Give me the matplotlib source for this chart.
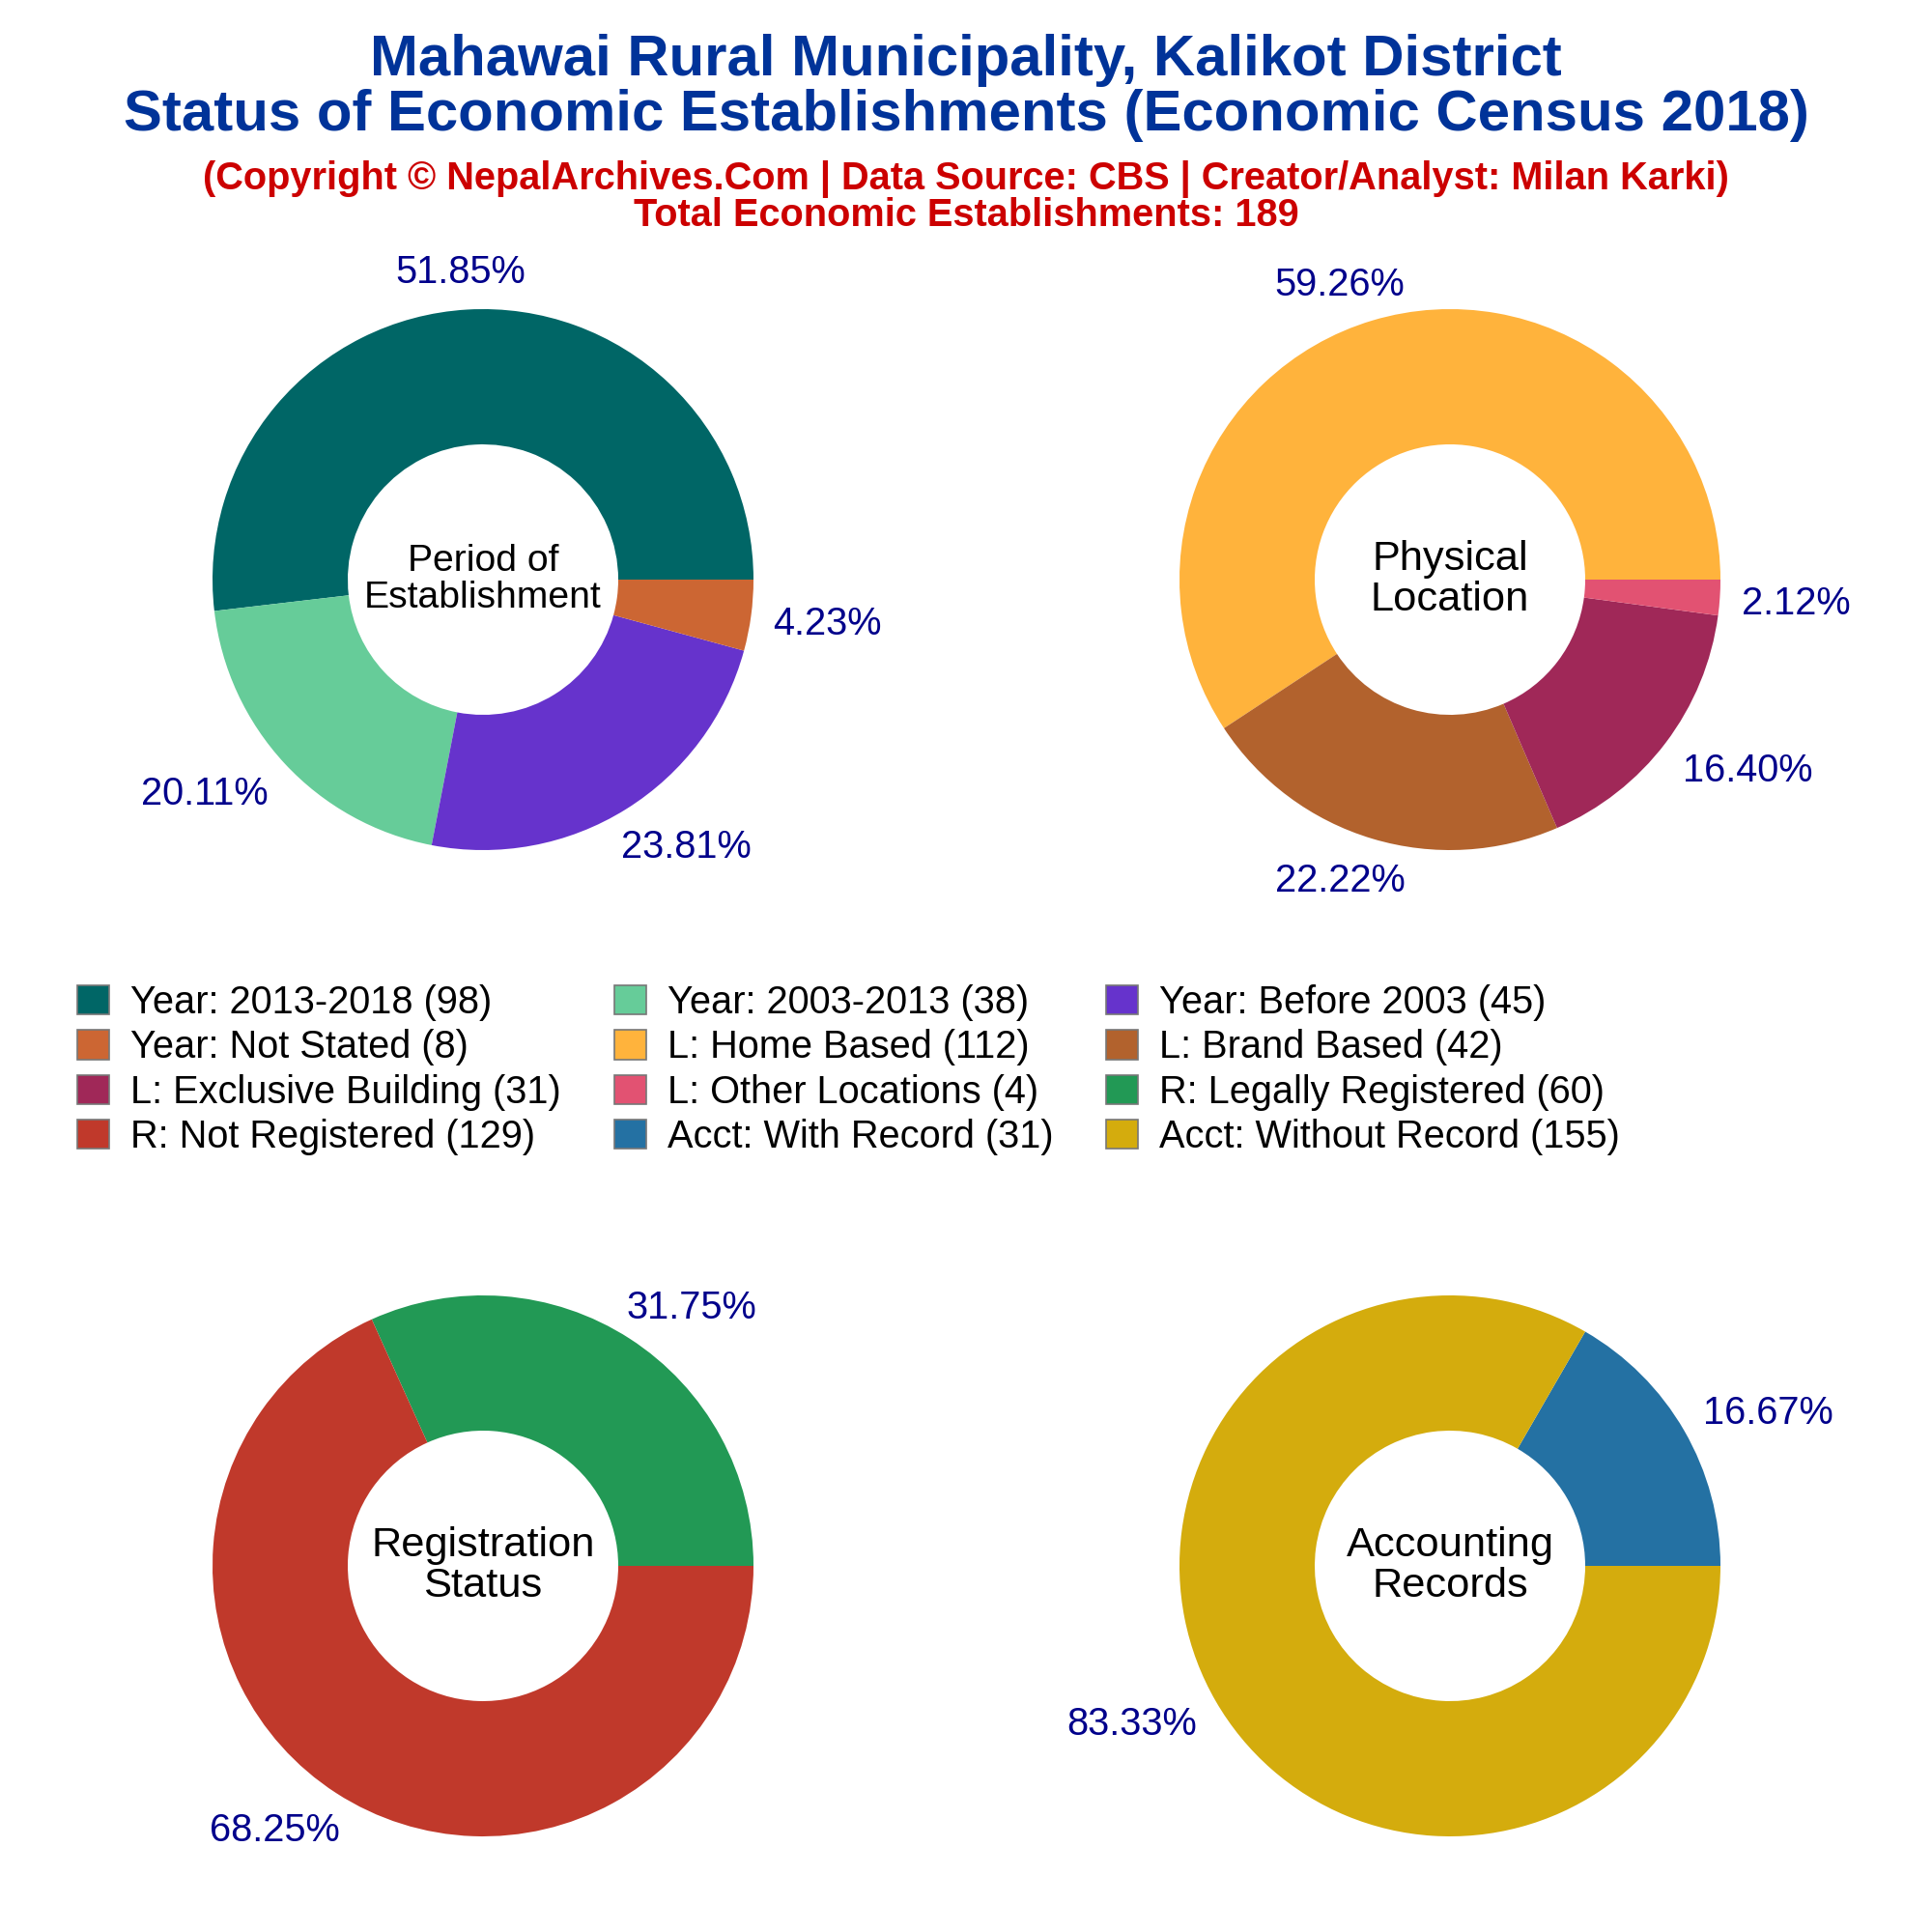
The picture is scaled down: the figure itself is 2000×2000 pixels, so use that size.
#!/usr/bin/env python3
"""Economic census donut charts for Mahawai Rural Municipality."""

import numpy as np
import matplotlib
matplotlib.use("Agg")
import matplotlib.pyplot as plt
import matplotlib.patches as mpatches

plt.rcParams["font.family"] = ["Liberation Sans", "DejaVu Sans"]

TITLE = "Mahawai Rural Municipality, Kalikot District\nStatus of Economic Establishments (Economic Census 2018)"
SUBTITLE = "(Copyright © NepalArchives.Com | Data Source: CBS | Creator/Analyst: Milan Karki)\nTotal Economic Establishments: 189"

period_labels = ["Year: 2013-2018", "Year: 2003-2013", "Year: Before 2003", "Year: Not Stated"]
period_values = [98, 38, 45, 8]
period_colors = ["#006666", "#66CC99", "#6633CC", "#CC6633"]

location_labels = ["L: Home Based", "L: Brand Based", "L: Exclusive Building", "L: Other Locations"]
location_values = [112, 42, 31, 4]
location_colors = ["#FFB33C", "#B2622D", "#A02858", "#E25272"]

register_labels = ["R: Legally Registered", "R: Not Registered"]
register_values = [60, 129]
register_colors = ["#229955", "#C0392B"]

account_labels = ["Acct: With Record", "Acct: Without Record"]
account_values = [31, 155]
account_colors = ["#2471A3", "#D4AC0D"]

W = 2000
RADIUS = 280
PCT_COLOR = "#00008B"
PCT_SIZE = 14.3

fig = plt.figure(figsize=(10, 10), dpi=200)


def donut(cx, cy, values, colors, center_text, center_size):
    """Draw one donut centred on pixel (cx, cy), y measured from the top."""
    ax = fig.add_axes([(cx - RADIUS) / W, 1 - (cy + RADIUS) / W,
                       2 * RADIUS / W, 2 * RADIUS / W])
    ax.pie(values, colors=colors, startangle=0, counterclock=True, radius=1,
           wedgeprops=dict(width=0.5, linewidth=0))
    ax.set_xlim(-1, 1)
    ax.set_ylim(-1, 1)

    # percent labels sit outside the ring, pushed out by their own box size
    renderer = fig.canvas.get_renderer()
    values = np.array(values, dtype=float)
    mids = (np.cumsum(values) - values / 2) / values.sum() * 2 * np.pi
    for v, mid in zip(values, mids):
        t = ax.text(0, 0, f"{v / values.sum() * 100:.2f}%", color=PCT_COLOR,
                    fontsize=PCT_SIZE, ha="center", va="center", clip_on=False)
        box = t.get_window_extent(renderer)
        c, s = np.cos(mid), np.sin(mid)
        push_x = np.sign(c) * min(1, 1.4 * abs(c))
        t.set_position((1.082 * c + box.width / 2 * push_x / RADIUS,
                        1.082 * s + box.height / 2 * s / RADIUS - 0.012))

    ax.text(0, 0, center_text, fontsize=center_size, ha="center", va="center",
            linespacing=1.05, color="black")


donut(500, 600, period_values, period_colors, "Period of\nEstablishment", 14.1)
donut(1501, 600, location_values, location_colors, "Physical\nLocation", 15.6)
donut(500, 1621, register_values, register_colors, "Registration\nStatus", 15.6)
donut(1501, 1621, account_values, account_colors, "Accounting\nRecords", 15.6)

fig.text(0.5, 1 - 91 / W, TITLE, fontsize=21.55, fontweight="bold", color="#003399",
         ha="center", va="center", linespacing=1.04)
fig.text(0.5, 1 - 204 / W, SUBTITLE, fontsize=14.3, fontweight="bold", color="#CC0000",
         ha="center", va="center", linespacing=0.98)

# legend reads row by row, matplotlib fills column by column
labels = period_labels + location_labels + register_labels + account_labels
values = period_values + location_values + register_values + account_values
colors = period_colors + location_colors + register_colors + account_colors
handles = [mpatches.Patch(facecolor=c, edgecolor="#777777", linewidth=0.6,
                          label=f"{l} ({v})")
           for l, v, c in zip(labels, values, colors)]
order = [i for col in range(3) for i in range(col, len(handles), 3)]
fig.legend(handles=[handles[i] for i in order], ncols=3, frameon=False,
           fontsize=14.3, loc="upper left", bbox_to_anchor=(80 / W, 1 - 1019 / W),
           borderaxespad=0, borderpad=0, handlelength=0.83, handleheight=0.8,
           handletextpad=0.55, columnspacing=1.39, labelspacing=0.21)

fig.savefig("out.png", dpi=200, facecolor="white")
